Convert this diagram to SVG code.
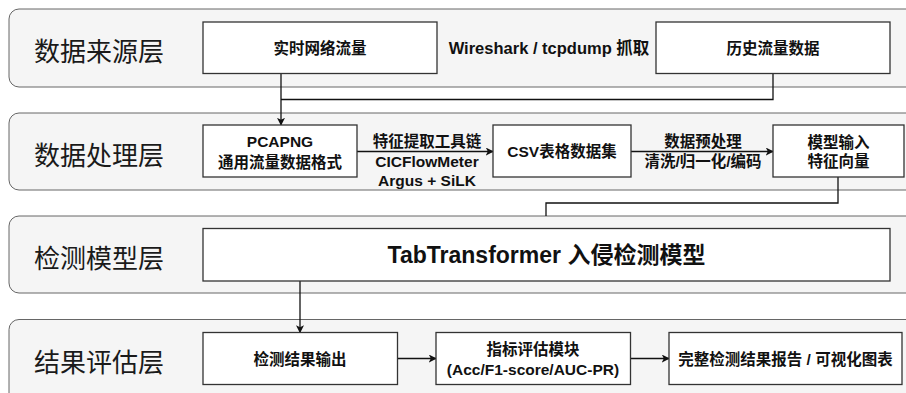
<svg xmlns="http://www.w3.org/2000/svg" width="906" height="393" viewBox="0 0 906 393">
  <style>
    .layer { fill: #f5f5f5; stroke: #666666; stroke-width: 1; }
    .layer-label { font-family: "Noto Sans CJK SC", "Noto Sans", sans-serif; font-size: 26px; fill: #1a1a1a; text-anchor: middle; dominant-baseline: central; }
    .box { fill: #ffffff; stroke: #333333; stroke-width: 1.3; }
    .label { font-family: "Liberation Sans", "Noto Sans CJK SC", sans-serif; font-size: 15.5px; font-weight: bold; fill: #111111; text-anchor: middle; dominant-baseline: central; }
    .wide { font-size: 16.5px; }
    .big { font-size: 23px; }
    .edge { fill: none; stroke: #111111; stroke-width: 1.3; }
  </style>
  <defs>
    <marker id="arrow" viewBox="0 0 10 10" refX="9" refY="5" markerWidth="8" markerHeight="8" markerUnits="userSpaceOnUse" orient="auto">
      <path d="M0,0 L10,5 L0,10 L2.5,5 Z" fill="#111111"/>
    </marker>
  </defs>

  <!-- layer bands -->
  <g id="layers">
    <g id="layer-source">
      <rect class="layer" x="9" y="9" width="920" height="78" rx="10"/>
      <text class="layer-label" x="99" y="49.5">数据来源层</text>
    </g>
    <g id="layer-process">
      <rect class="layer" x="9" y="113" width="920" height="77" rx="10"/>
      <text class="layer-label" x="99" y="153">数据处理层</text>
    </g>
    <g id="layer-model">
      <rect class="layer" x="9" y="216" width="920" height="77" rx="10"/>
      <text class="layer-label" x="99" y="256">检测模型层</text>
    </g>
    <g id="layer-eval">
      <rect class="layer" x="9" y="319.5" width="920" height="90" rx="10"/>
      <text class="layer-label" x="99" y="360">结果评估层</text>
    </g>
  </g>

  <!-- connectors -->
  <g id="connectors">
    <path class="edge" d="M281,73.5 L281,125" marker-end="url(#arrow)"/>
    <path class="edge" d="M773,73.5 L773,99.5 L281,99.5"/>
    <path class="edge" d="M357,151.5 L493,151.5" marker-end="url(#arrow)"/>
    <path class="edge" d="M631,151.5 L773,151.5" marker-end="url(#arrow)"/>
    <path class="edge" d="M838,177 L838,203 L546,203 L546,216"/>
    <path class="edge" d="M300,281 L300,332.5" marker-end="url(#arrow)"/>
    <path class="edge" d="M397.5,358.5 L436,358.5" marker-end="url(#arrow)"/>
    <path class="edge" d="M630.5,358.5 L669,358.5" marker-end="url(#arrow)"/>
  </g>

  <!-- connector labels -->
  <g id="connector-labels">
    <text class="label wide" x="549" y="48">Wireshark / tcpdump 抓取</text>
    <text class="label" x="427" y="141.5">特征提取工具链</text>
    <text class="label" x="427" y="161.5">CICFlowMeter</text>
    <text class="label" x="427" y="180.5">Argus + SiLK</text>
    <text class="label" x="703" y="141.5">数据预处理</text>
    <text class="label" x="703" y="161.5">清洗/归一化/编码</text>
  </g>

  <!-- nodes -->
  <g id="node-realtime">
    <rect class="box" x="203" y="22" width="234" height="51.5"/>
    <text class="label" x="320" y="48">实时网络流量</text>
  </g>
  <g id="node-history">
    <rect class="box" x="656" y="22" width="234" height="51.5"/>
    <text class="label" x="773" y="48">历史流量数据</text>
  </g>
  <g id="node-pcapng">
    <rect class="box" x="203" y="125" width="154" height="52"/>
    <text class="label" x="280" y="141.5">PCAPNG</text>
    <text class="label" x="280" y="162">通用流量数据格式</text>
  </g>
  <g id="node-csv">
    <rect class="box" x="493" y="125" width="138" height="52"/>
    <text class="label" x="562" y="151.5">CSV表格数据集</text>
  </g>
  <g id="node-features">
    <rect class="box" x="773" y="125" width="131" height="52"/>
    <text class="label" x="838.5" y="142">模型输入</text>
    <text class="label" x="838.5" y="161.5">特征向量</text>
  </g>
  <g id="node-tabtransformer">
    <rect class="box" x="203" y="228.5" width="687" height="52.5"/>
    <text class="label big" x="546.5" y="255">TabTransformer 入侵检测模型</text>
  </g>
  <g id="node-output">
    <rect class="box" x="203" y="332.5" width="194.5" height="52"/>
    <text class="label" x="300" y="359">检测结果输出</text>
  </g>
  <g id="node-metrics">
    <rect class="box" x="436" y="332.5" width="194.5" height="52"/>
    <text class="label" x="533" y="349.5">指标评估模块</text>
    <text class="label" x="533" y="369.5">(Acc/F1-score/AUC-PR)</text>
  </g>
  <g id="node-report">
    <rect class="box" x="669" y="332.5" width="233" height="52"/>
    <text class="label" x="785.5" y="359">完整检测结果报告 / 可视化图表</text>
  </g>
</svg>
